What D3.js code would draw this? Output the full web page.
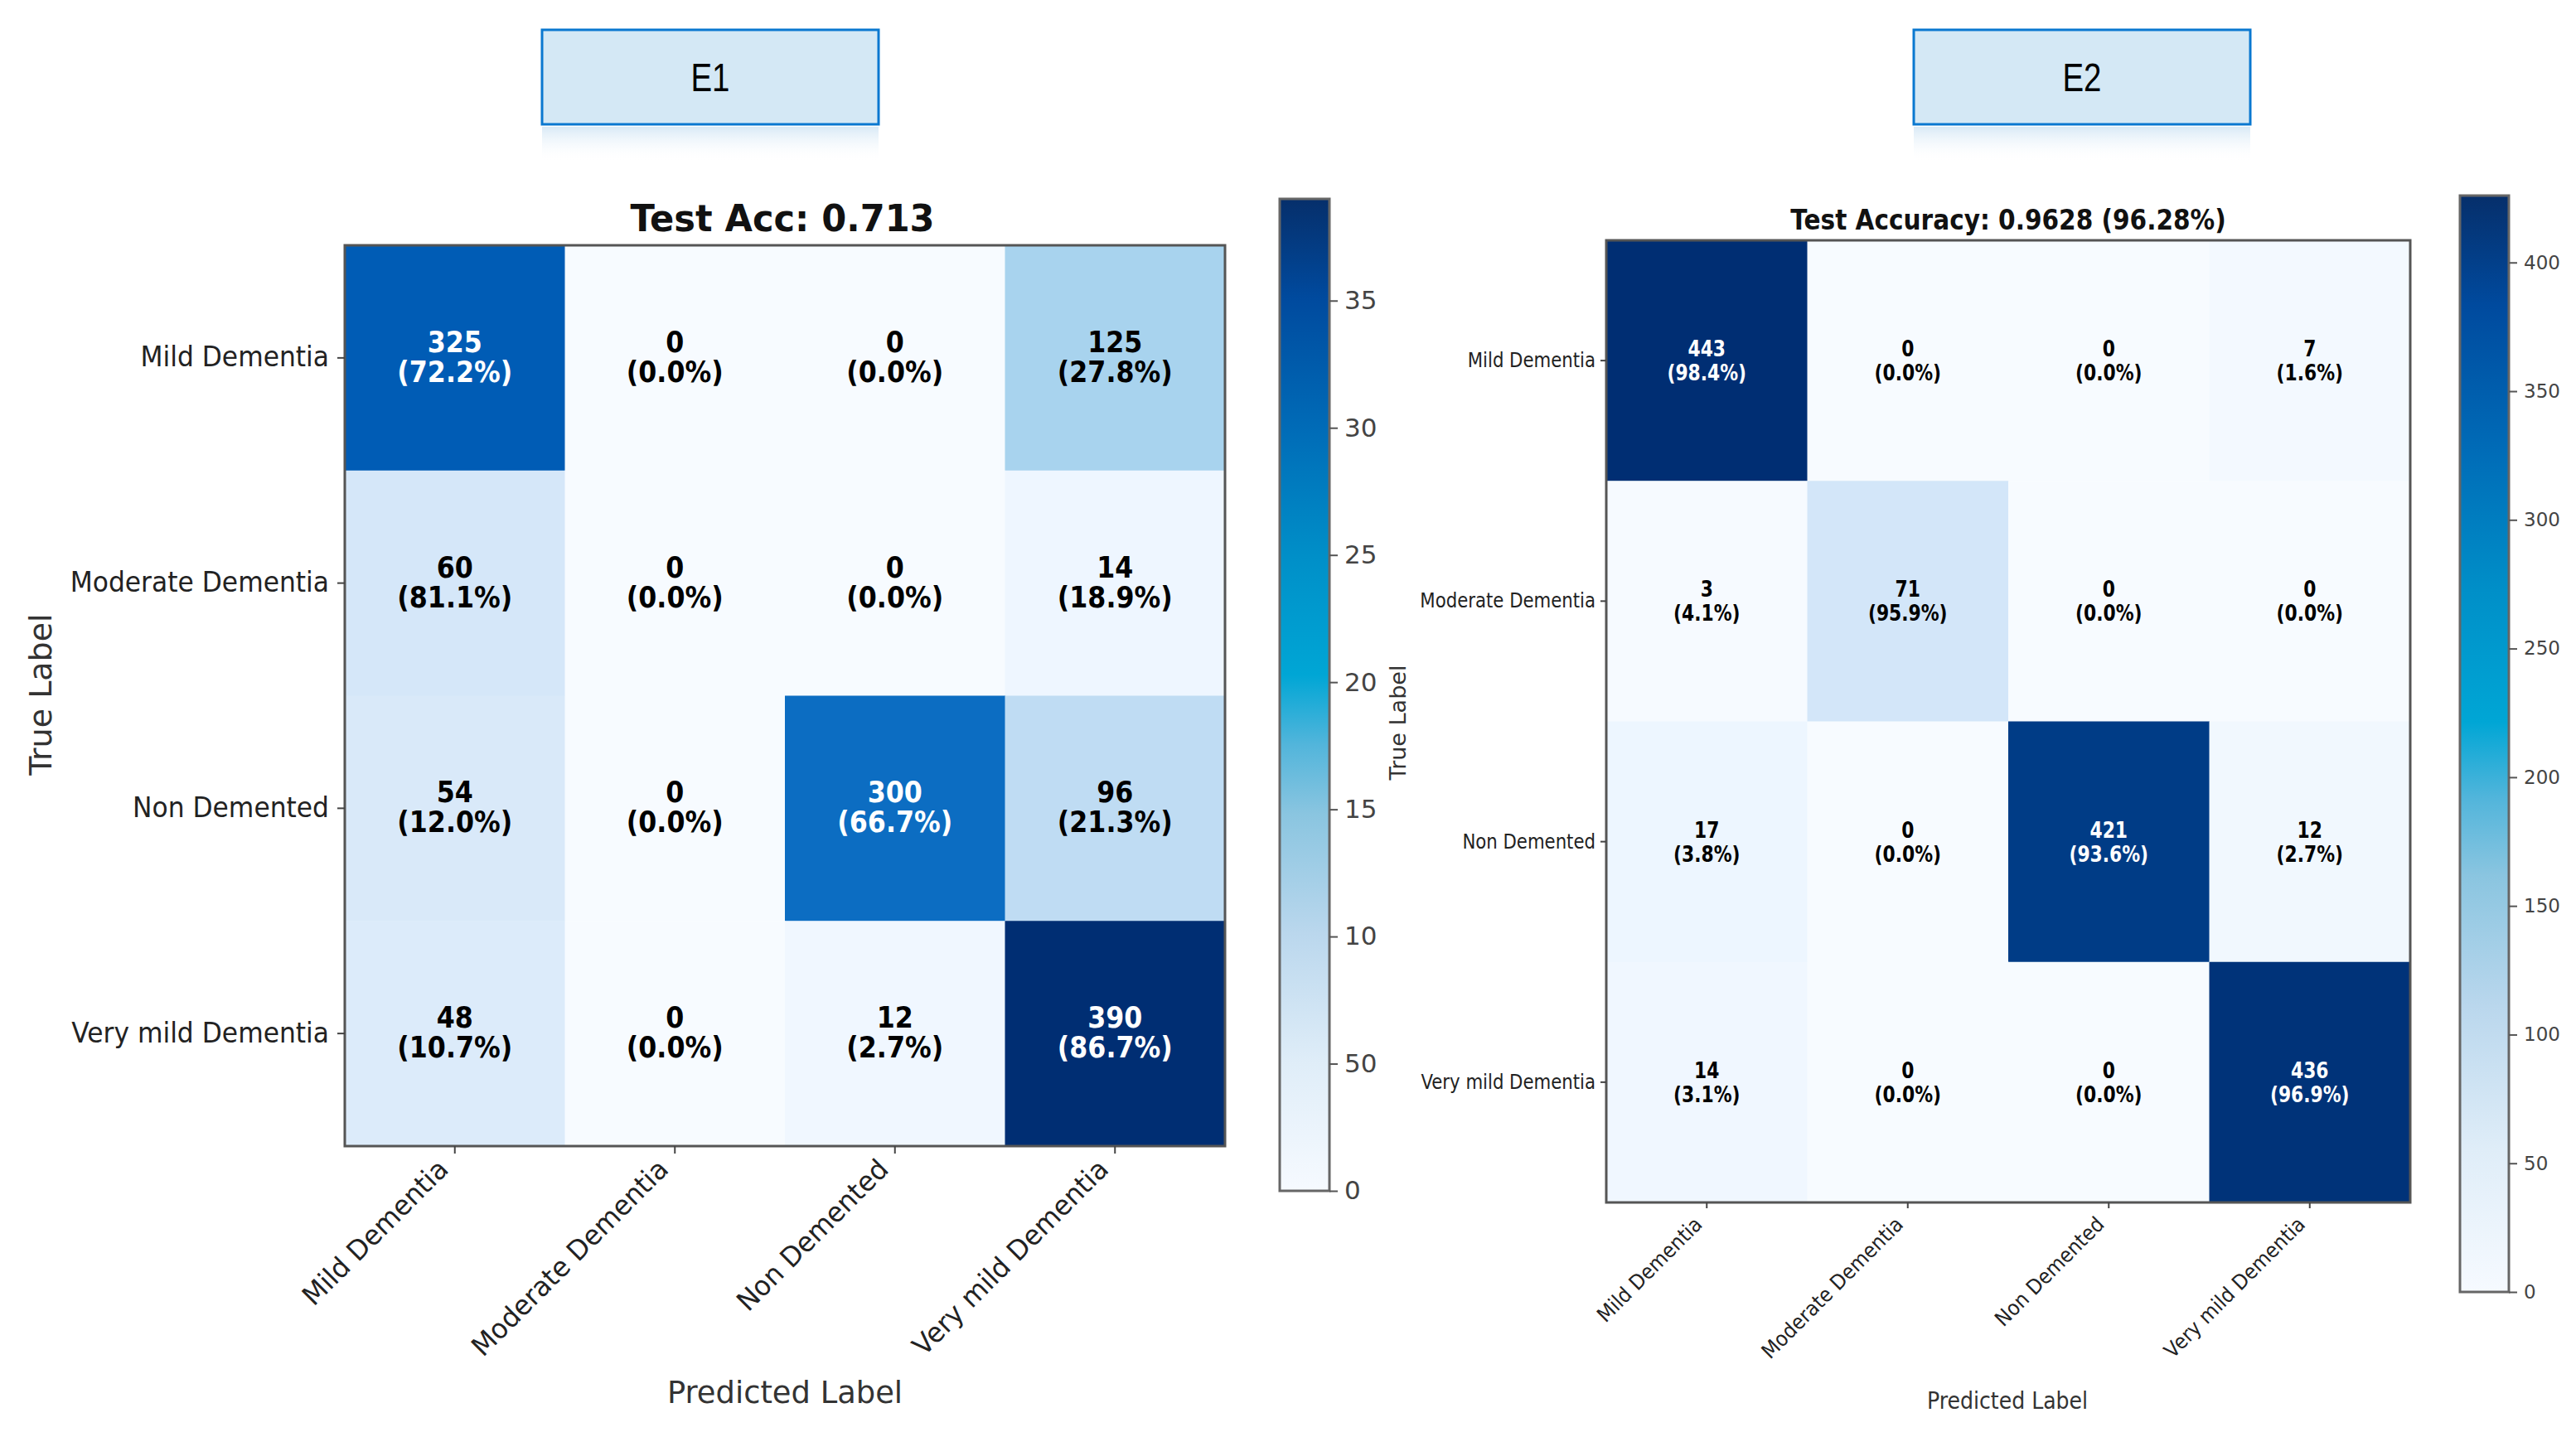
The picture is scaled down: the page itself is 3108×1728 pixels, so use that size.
<!DOCTYPE html>
<html>
<head>
<meta charset="utf-8">
<script src="https://cdn.jsdelivr.net/npm/d3@7"></script>
<style>
  body { margin: 0; background: #fff; }
  svg { display: block; font-family: "DejaVu Sans", sans-serif; }
</style>
</head>
<body>
<svg id="chart"></svg>
<script>
const classes = ['Mild Dementia', 'Moderate Dementia', 'Non Demented', 'Very mild Dementia']
const panelNames = ['E1', 'E2']
const countsE1 = [
  [325, 0, 0, 125],
  [60, 0, 0, 14],
  [54, 0, 300, 96],
  [48, 0, 12, 390]
]
const countsE2 = [
  [443, 0, 0, 7],
  [3, 71, 0, 0],
  [17, 0, 421, 12],
  [14, 0, 0, 436]
]
const titles = ['Test Acc: 0.713', 'Test Accuracy: 0.9628 (96.28%)']
const cbarTicksE1 = [0, 5, 10, 15, 20, 25, 30, 35]
const cbarLabelsE1 = ['0', '50', '10', '15', '20', '25', '30', '35']
const cbarMaxE1 = 39
const cbarTicksE2 = [0, 50, 100, 150, 200, 250, 300, 350, 400]
const cbarLabelsE2 = ['0', '50', '100', '150', '200', '250', '300', '350', '400']
const cbarMaxE2 = 426

const width = 3108
const height = 1728

const svg = d3.select('#chart').attr('width', width).attr('height', height)
const defs = svg.append('defs')

// colorbar gradient (the bar in the picture is more cyan than the cells)
const cbarStops = [
  [0, '#f6faff'], [0.13, '#dfedf8'], [0.26, '#bad7ed'], [0.38, '#8ac5e0'],
  [0.45, '#52b5db'], [0.52, '#00a6d5'], [0.64, '#008fc8'], [0.77, '#006bb7'],
  [0.9, '#004a9e'], [1, '#062f6b']
]
const grad = defs.append('linearGradient').attr('id', 'cbar')
  .attr('x1', 0).attr('y1', 1).attr('x2', 0).attr('y2', 0)
cbarStops.forEach(s => grad.append('stop').attr('offset', s[0]).attr('stop-color', s[1]))

const refl = defs.append('linearGradient').attr('id', 'refl')
  .attr('x1', 0).attr('y1', 0).attr('x2', 0).attr('y2', 1)
refl.append('stop').attr('offset', 0).attr('stop-color', '#cfe4f4').attr('stop-opacity', 0.8)
refl.append('stop').attr('offset', 1).attr('stop-color', '#ffffff').attr('stop-opacity', 0)

// Blues, a little more saturated like the picture
const blues = t => {
  const c = d3.hsl(d3.interpolateBlues(t))
  c.s = Math.min(1, c.s * 1.25)
  return c.formatHex()
}

const panels = [
  {
    name: panelNames[0], counts: countsE1, title: titles[0],
    box: [654, 36, 406, 114],
    m: [416, 296, 1478, 1383],
    sx: 0.88, ysx: 0.95, xsx: 0.97, titleSx: 0.98, predSx: 0.97,
    titleX: 944, titleY: 279, titleSize: 44,
    labelSize: 33, cellSize: 36, cellDy: [-7, 29],
    tickLen: 9, ypad: 10, xlab: [-6, 30],
    trueX: 49, trueY: 838, trueSize: 38,
    predX: 947, predY: 1693, predSize: 38,
    cbar: [1544, 240, 60, 1437], cbarMax: cbarMaxE1, cbarTicks: cbarTicksE1, cbarLabels: cbarLabelsE1, cbarFont: 31
  },
  {
    name: panelNames[1], counts: countsE2, title: titles[1],
    box: [2309, 36, 406, 114],
    m: [1938, 290, 2908, 1451],
    sx: 0.84, ysx: 0.85, xsx: 0.92, titleSx: 0.87, predSx: 0.9,
    titleX: 2423, titleY: 277, titleSize: 34,
    labelSize: 25, cellSize: 26, cellDy: [-5, 24],
    tickLen: 7, ypad: 6, xlab: [-4, 28],
    trueX: 1687, trueY: 872, trueSize: 27,
    predX: 2422, predY: 1700, predSize: 28,
    cbar: [2968, 236, 59, 1559], cbarMax: cbarMaxE2, cbarTicks: cbarTicksE2, cbarLabels: cbarLabelsE2, cbarFont: 23
  }
]

panels.forEach(p => {
  const g = svg.append('g')

  // header box with faded reflection
  const [bx, by, bw, bh] = p.box
  g.append('rect').attr('x', bx).attr('y', by + bh + 3).attr('width', bw).attr('height', 42)
    .attr('fill', 'url(#refl)')
  g.append('rect').attr('x', bx).attr('y', by).attr('width', bw).attr('height', bh)
    .attr('fill', '#d4e8f5').attr('stroke', '#0a78d0').attr('stroke-width', 3)
  g.append('text')
    .attr('transform', `translate(${bx + bw / 2},${by + bh / 2 + 17}) scale(0.8,1)`)
    .attr('text-anchor', 'middle')
    .style('font-family', '"Liberation Sans", sans-serif')
    .style('font-size', '48px')
    .attr('fill', '#000')
    .text(p.name)

  const [x0, y0, x1, y1] = p.m
  const x = d3.scaleBand().domain(classes).range([x0, x1])
  const y = d3.scaleBand().domain(classes).range([y0, y1])
  const max = d3.max(p.counts.flat())
  const color = d3.scaleSequential(blues).domain([0, max])

  const cells = []
  p.counts.forEach((row, i) => {
    const total = d3.sum(row)
    row.forEach((v, j) => cells.push({ r: classes[i], c: classes[j], v, pct: v / total * 100 }))
  })

  g.selectAll('rect.cell').data(cells).enter().append('rect')
    .attr('class', 'cell')
    .attr('x', d => x(d.c)).attr('y', d => y(d.r))
    .attr('width', x.bandwidth() + 0.5).attr('height', y.bandwidth() + 0.5)
    .attr('fill', d => color(d.v))

  const txt = g.selectAll('text.cell').data(cells).enter().append('text')
    .attr('class', 'cell')
    .attr('transform', d => `translate(${x(d.c) + x.bandwidth() / 2},${y(d.r) + y.bandwidth() / 2}) scale(${p.sx},1)`)
    .attr('text-anchor', 'middle')
    .style('font-size', p.cellSize + 'px')
    .style('font-weight', 'bold')
    .attr('fill', d => d.v > max / 2 ? '#fff' : '#000')
  txt.append('tspan').attr('x', 0).attr('y', p.cellDy[0]).text(d => d.v)
  txt.append('tspan').attr('x', 0).attr('y', p.cellDy[1]).text(d => '(' + d.pct.toFixed(1) + '%)')

  g.append('rect').attr('x', x0).attr('y', y0).attr('width', x1 - x0).attr('height', y1 - y0)
    .attr('fill', 'none').attr('stroke', '#555').attr('stroke-width', 3)

  // axes
  const yAxis = g.append('g').attr('transform', `translate(${x0},0)`)
    .call(d3.axisLeft(y).tickSize(p.tickLen))
  yAxis.select('.domain').remove()
  yAxis.selectAll('line').attr('stroke', '#444').attr('stroke-width', 2)
  yAxis.selectAll('text')
    .attr('transform', `scale(${p.ysx},1)`)
    .attr('x', -(p.tickLen + p.ypad) / p.ysx)
    .style('font-size', p.labelSize + 'px').style('font-family', '"DejaVu Sans", sans-serif')
    .attr('fill', '#222')

  const xAxis = g.append('g').attr('transform', `translate(0,${y1})`)
    .call(d3.axisBottom(x).tickSize(p.tickLen))
  xAxis.select('.domain').remove()
  xAxis.selectAll('line').attr('stroke', '#444').attr('stroke-width', 2)
  xAxis.selectAll('text')
    .attr('x', 0).attr('y', 0).attr('dy', 0)
    .attr('transform', `translate(${p.xlab[0]},${p.xlab[1]}) rotate(-45) scale(${p.xsx},1)`)
    .attr('text-anchor', 'end')
    .style('font-size', p.labelSize + 'px').style('font-family', '"DejaVu Sans", sans-serif')
    .attr('fill', '#222')

  g.append('text')
    .attr('transform', `translate(${p.titleX},${p.titleY}) scale(${p.titleSx},1)`)
    .attr('text-anchor', 'middle')
    .style('font-size', p.titleSize + 'px').style('font-weight', 'bold')
    .attr('fill', '#111')
    .text(p.title)

  g.append('text')
    .attr('transform', `translate(${p.trueX},${p.trueY}) rotate(-90)`)
    .attr('text-anchor', 'middle').attr('dy', '0.35em')
    .style('font-size', p.trueSize + 'px')
    .attr('fill', '#333')
    .text('True Label')

  g.append('text')
    .attr('transform', `translate(${p.predX},${p.predY}) scale(${p.predSx},1)`)
    .attr('text-anchor', 'middle')
    .style('font-size', p.predSize + 'px')
    .attr('fill', '#333')
    .text('Predicted Label')

  // colorbar
  const [cx, ctop, cw, cbot] = p.cbar
  g.append('rect').attr('x', cx).attr('y', ctop).attr('width', cw).attr('height', cbot - ctop)
    .attr('fill', 'url(#cbar)').attr('stroke', '#666').attr('stroke-width', 3)
  const cScale = d3.scaleLinear().domain([0, p.cbarMax]).range([cbot, ctop])
  const cAxis = g.append('g').attr('transform', `translate(${cx + cw},0)`)
    .call(d3.axisRight(cScale).tickValues(p.cbarTicks)
      .tickFormat((d, i) => p.cbarLabels[i]).tickSize(10).tickPadding(8))
  cAxis.select('.domain').remove()
  cAxis.selectAll('line').attr('stroke', '#555').attr('stroke-width', 2)
  cAxis.selectAll('text')
    .style('font-size', p.cbarFont + 'px').style('font-family', '"DejaVu Sans", sans-serif')
    .attr('fill', '#444')
})
</script>
</body>
</html>
